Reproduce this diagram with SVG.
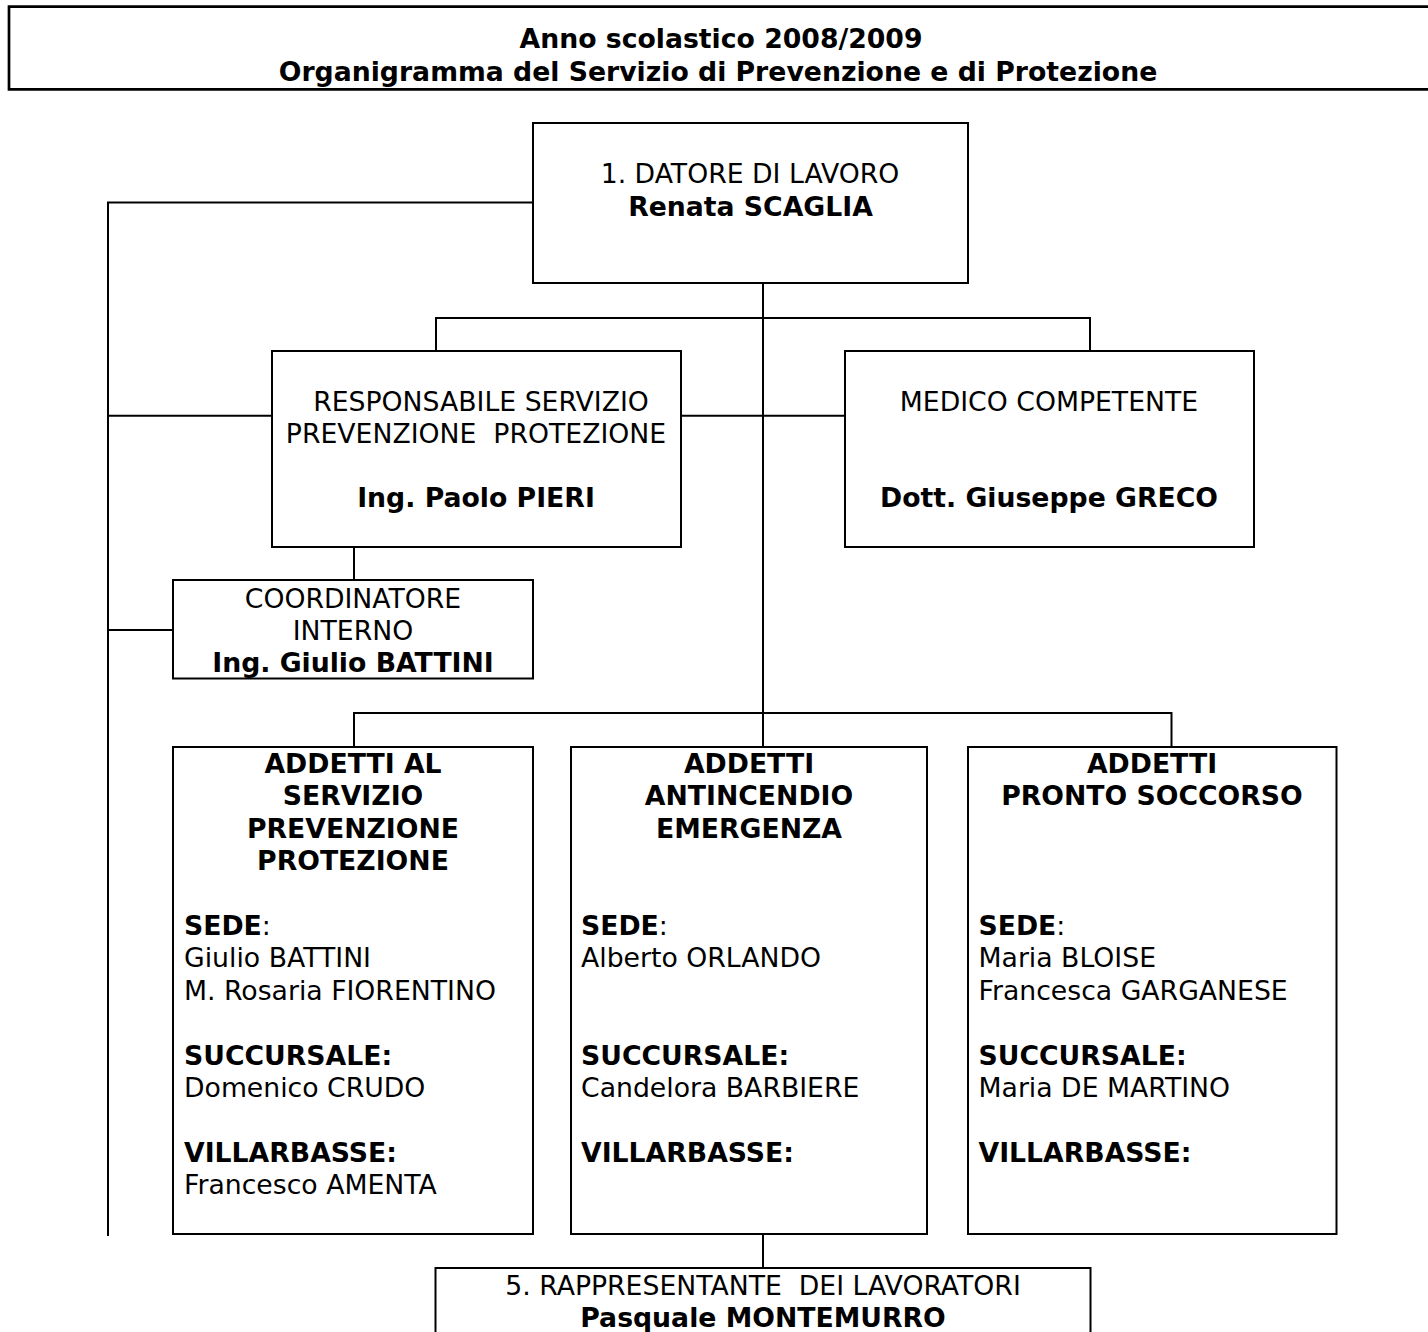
<svg xmlns="http://www.w3.org/2000/svg" width="1428" height="1332" viewBox="0 0 1428 1332">
<style>
  .box { fill: #fff; stroke: #000; stroke-width: 2; }
  .conn { fill: none; stroke: #000; stroke-width: 2; }
  .hdr { fill: none; stroke: #000; stroke-width: 2.7; }
  text { font-family: Verdana, "DejaVu Sans", sans-serif; font-size: 26.7px; fill: #000; }
  .b { font-weight: bold; }
  .c { text-anchor: middle; }
</style>
<rect width="1428" height="1332" fill="#fff"/>

<g id="header">
  <path class="hdr" d="M1430 6.7 H9 V89.3 H1430"/>
  <text class="b c" x="721" y="48">Anno scolastico 2008/2009</text>
  <text class="b c" x="718" y="80.5">Organigramma del Servizio di Prevenzione e di Protezione</text>
</g>

<g id="connectors">
  <path class="conn" d="M108 1236 V202.5 H533"/>
  <path class="conn" d="M108 415.7 H272"/>
  <path class="conn" d="M108 630 H173"/>
  <path class="conn" d="M763 283 V747"/>
  <path class="conn" d="M436 351 V318 H1090 V351"/>
  <path class="conn" d="M681 415.7 H845"/>
  <path class="conn" d="M354 547 V580"/>
  <path class="conn" d="M354 747 V713 H1171.5 V747"/>
  <path class="conn" d="M763 1234 V1268"/>
</g>

<g id="datore">
  <rect class="box" x="533" y="123" width="435" height="160"/>
  <text class="c" x="750" y="182.7">1. DATORE DI LAVORO</text>
  <text class="b c" x="750.5" y="215.5">Renata SCAGLIA</text>
</g>

<g id="rspp">
  <rect class="box" x="272" y="351" width="409" height="196"/>
  <text class="c" x="481" y="411">RESPONSABILE SERVIZIO</text>
  <text class="c" x="476" y="442.7" xml:space="preserve">PREVENZIONE  PROTEZIONE</text>
  <text class="b c" x="476" y="506.7">Ing. Paolo PIERI</text>
</g>

<g id="medico">
  <rect class="box" x="845" y="351" width="409" height="196"/>
  <text class="c" x="1049" y="411">MEDICO COMPETENTE</text>
  <text class="b c" x="1049" y="506.7">Dott. Giuseppe GRECO</text>
</g>

<g id="coordinatore">
  <rect class="box" x="173" y="580" width="360" height="98.5"/>
  <text class="c" x="353" y="607.7">COORDINATORE</text>
  <text class="c" x="353" y="640">INTERNO</text>
  <text class="b c" x="353" y="671.5">Ing. Giulio BATTINI</text>
</g>

<g id="addetti-spp">
  <rect class="box" x="173" y="747" width="360" height="487"/>
  <text class="b c" x="353" y="773">ADDETTI AL</text>
  <text class="b c" x="353" y="805.4">SERVIZIO</text>
  <text class="b c" x="353" y="837.8">PREVENZIONE</text>
  <text class="b c" x="353" y="870.2">PROTEZIONE</text>
  <text x="184" y="935"><tspan class="b">SEDE</tspan>:</text>
  <text x="184" y="967.4">Giulio BATTINI</text>
  <text x="184" y="999.8">M. Rosaria FIORENTINO</text>
  <text class="b" x="184" y="1064.6">SUCCURSALE:</text>
  <text x="184" y="1097">Domenico CRUDO</text>
  <text class="b" x="184" y="1161.8">VILLARBASSE:</text>
  <text x="184" y="1194.2">Francesco AMENTA</text>
</g>

<g id="addetti-antincendio">
  <rect class="box" x="571" y="747" width="356" height="487"/>
  <text class="b c" x="749" y="773">ADDETTI</text>
  <text class="b c" x="749" y="805.4">ANTINCENDIO</text>
  <text class="b c" x="749" y="837.8">EMERGENZA</text>
  <text x="581" y="935"><tspan class="b">SEDE</tspan>:</text>
  <text x="581" y="967.4">Alberto ORLANDO</text>
  <text class="b" x="581" y="1064.6">SUCCURSALE:</text>
  <text x="581" y="1097">Candelora BARBIERE</text>
  <text class="b" x="581" y="1161.8">VILLARBASSE:</text>
</g>

<g id="addetti-pronto-soccorso">
  <rect class="box" x="968" y="747" width="368.5" height="487"/>
  <text class="b c" x="1152" y="773">ADDETTI</text>
  <text class="b c" x="1152" y="805.4">PRONTO SOCCORSO</text>
  <text x="978.5" y="935"><tspan class="b">SEDE</tspan>:</text>
  <text x="978.5" y="967.4">Maria BLOISE</text>
  <text x="978.5" y="999.8">Francesca GARGANESE</text>
  <text class="b" x="978.5" y="1064.6">SUCCURSALE:</text>
  <text x="978.5" y="1097">Maria DE MARTINO</text>
  <text class="b" x="978.5" y="1161.8">VILLARBASSE:</text>
</g>

<g id="rappresentante">
  <rect class="box" x="435.5" y="1268" width="655" height="80"/>
  <text class="c" x="763" y="1294.5" xml:space="preserve">5. RAPPRESENTANTE  DEI LAVORATORI</text>
  <text class="b c" x="763" y="1327">Pasquale MONTEMURRO</text>
</g>
</svg>
